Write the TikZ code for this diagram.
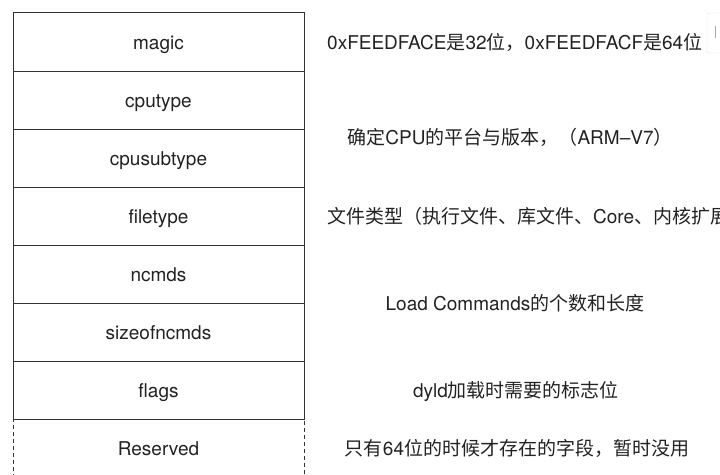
\documentclass[tikz,border=0pt]{standalone}
\usepackage{fontspec}
\setmainfont{TeX Gyre Heros}
\newfontfamily\cjk{Noto Sans CJK SC}
\newcommand{\zh}[1]{{\cjk #1}}
\usetikzlibrary{positioning}
\definecolor{linegray}{HTML}{333333}
\definecolor{textgray}{HTML}{222222}
\tikzset{
  field/.style={draw=linegray, line width=1pt, minimum width=291pt,
    minimum height=58.1pt, inner sep=0pt, outer sep=0pt, text=textgray,
    text height=16pt, text depth=2pt, font=\fontsize{19}{22}\selectfont},
  note/.style={text=textgray, inner sep=0pt, text height=16pt,
    text depth=2pt, font=\fontsize{19}{22}\selectfont},
}

\begin{document}
\begin{tikzpicture}[x=1pt,y=-1pt]
    \useasboundingbox (0,0) rectangle (720,474);
    \clip (0,0) rectangle (720,474);
    %header fields
    \node[field] (magic) at (158.5,42) {magic};
    \node[field, below=0pt of magic] (cputype) {cputype};
    \node[field, below=0pt of cputype] (cpusubtype) {cpusubtype};
    \node[field, below=0pt of cpusubtype] (filetype) {filetype};
    \node[field, below=0pt of filetype] (ncmds) {ncmds};
    \node[field, below=0pt of ncmds] (sizeofncmds) {sizeofncmds};
    \node[field, below=0pt of sizeofncmds] (flags) {flags};
    \node[field, draw=none, below=0pt of flags] (reserved) {Reserved};
    \draw[linegray, line width=1pt, dash pattern=on 4pt off 3pt]
    (reserved.south west)--(reserved.north west)--(reserved.north east)--(reserved.south east);
    %notes
    \node[note, anchor=west] (magicnote) at (327,42)
    {0xFEEDFACE\zh{是}32\zh{位，}0xFEEDFACF\zh{是}64\zh{位}};
    \node[note] (cpunote) at (510,137)
    {\zh{确定}CPU\zh{的平台与版本，（}ARM–V7\zh{）}};
    \node[note, anchor=west] (filenote) at (327,216)
    {\zh{文件类型（执行文件、库文件、}Core\zh{、内核扩展}};
    \node[note] (loadnote) at (515,303) {Load Commands\zh{的个数和长度}};
    \node[note] (flagsnote) at (516,390) {dyld\zh{加载时需要的标志位}};
    \node[note] (reservednote) at (517,448)
    {\zh{只有}64\zh{位的时候才存在的字段，暂时没用}};
    %box at the edge
    \draw[gray!25, rounded corners=2pt] (707,13) rectangle (726,53);
    \draw[gray!70, line width=1pt] (715,26)--(715,38);
\end{tikzpicture}
\end{document}
